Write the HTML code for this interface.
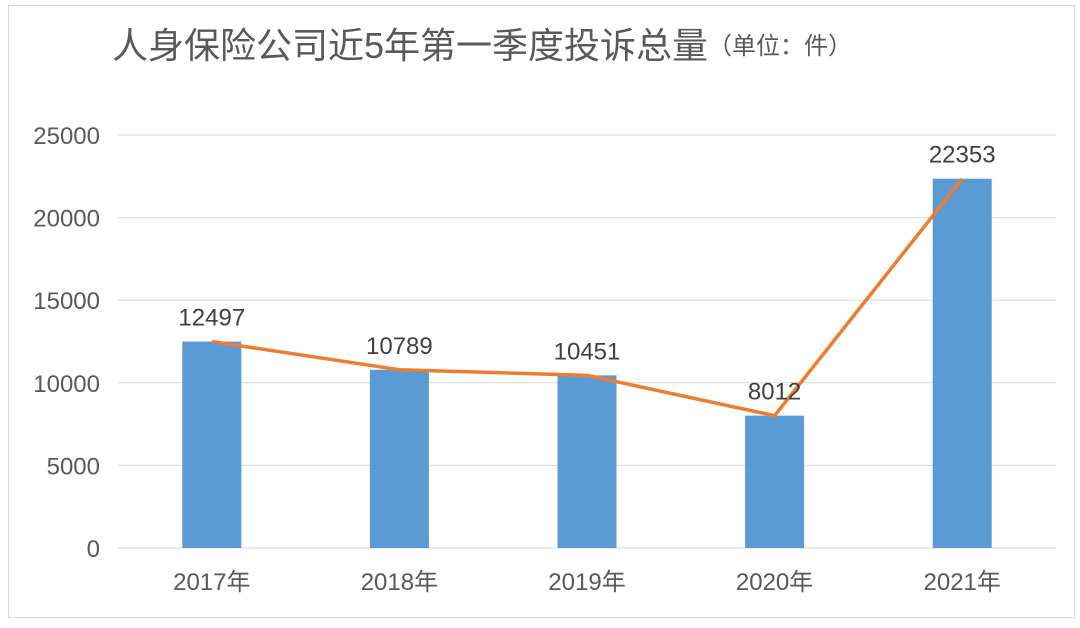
<!DOCTYPE html>
<html><head><meta charset="utf-8"><style>
body{margin:0;background:#fff;}
svg text{font-family:"Liberation Sans","Noto Sans CJK SC",sans-serif;fill:#595959;}
</style></head><body>
<svg width="1080" height="623" xmlns="http://www.w3.org/2000/svg">
<rect x="8.5" y="5.5" width="1066" height="612" fill="#fff" stroke="#d9d9d9"/>
<text x="112" y="58" font-size="36">人身保险公司近5年第一季度投诉总量<tspan font-size="24" dy="-4">（单位：件）</tspan></text>
<g id="grid"></g><g id="bars"></g><g id="line"></g><g id="labels"></g>
</svg>
<script>
const categories=["2017年","2018年","2019年","2020年","2021年"];
const values=[12497,10789,10451,8012,22353];
const yTicks=[0,5000,10000,15000,20000,25000];
const x0=118,x1=1056,yZero=548,yTop=135,yMax=25000;
const bw=(x1-x0)/categories.length;
const X=i=>x0+bw*(i+0.5);
const Y=v=>yZero-(v/yMax)*(yZero-yTop);
const NS="http://www.w3.org/2000/svg";
function mk(t,a,p,txt){const e=document.createElementNS(NS,t);for(const k in a)e.setAttribute(k,a[k]);if(txt!==undefined)e.textContent=txt;document.getElementById(p).appendChild(e);return e;}
yTicks.forEach(v=>{
 const l=mk('line',{x1:x0,x2:x1,y1:Y(v),y2:Y(v),stroke:'#d9d9d9','stroke-width':1},'grid');
 
 
 const t=mk('text',{x:100,y:Y(v)+9,'text-anchor':'end','font-size':24},'grid',String(v));
 
 
});
categories.forEach((c,i)=>{
 const t=mk('text',{x:X(i),y:590,'text-anchor':'middle','font-size':24},'grid',c);
 
 
});
values.forEach((v,i)=>{
 const r=mk('rect',{x:X(i)-29.5,y:Y(v),width:59,height:yZero-Y(v),fill:'#5b9bd5'},'bars');
 
 
 const t=mk('text',{x:X(i),y:Y(v)-16,'text-anchor':'middle','font-size':24,style:'fill:#404040'},'labels',String(v));
 
 
});
const pl=mk('polyline',{points:values.map((v,i)=>X(i)+','+Y(v)).join(' '),fill:'none',stroke:'#ed7d31','stroke-width':3.5,'stroke-linejoin':'round'},'line');


</script>
</body></html>
